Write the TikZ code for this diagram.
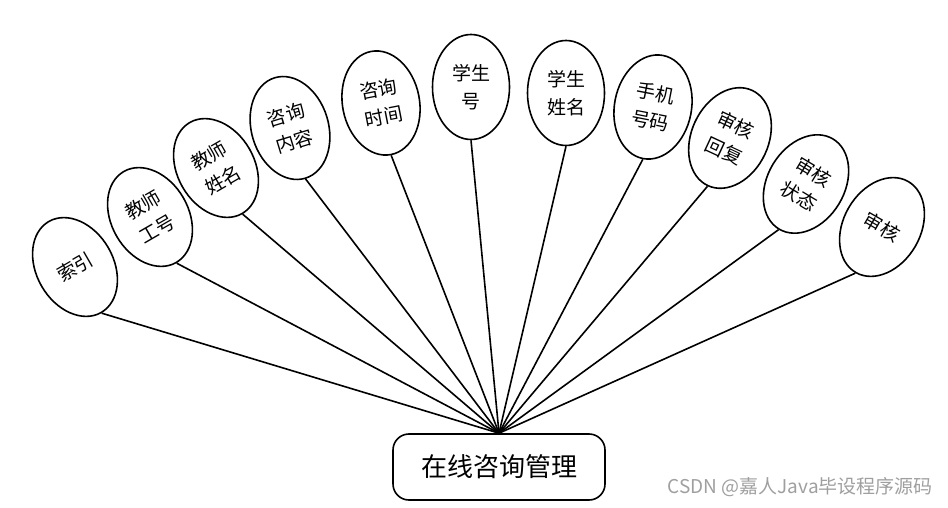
\documentclass[tikz,border=0pt]{standalone}
\usepackage{fontspec}
\setmainfont{Noto Sans CJK SC}
\newfontfamily\cjk{Noto Sans CJK SC}
\usetikzlibrary{shapes.geometric}
\begin{document}
\begin{tikzpicture}[x=1pt,y=-1pt,
  attr/.style={ellipse, draw, line width=1.6pt, minimum width=77pt, minimum height=105pt,
    inner sep=0pt, align=center, font=\cjk\fontsize{19pt}{28pt}\selectfont},
  link/.style={line width=1.6pt},
  mainbox/.style={draw, rounded corners=16pt, line width=1.6pt, minimum width=212pt,
    minimum height=66pt, font=\cjk\fontsize{26pt}{30pt}\selectfont}]
\useasboundingbox (0,0) rectangle (948,508);
\node[mainbox] (hubbox) at (499,467) {在线咨询管理};
\coordinate (hub) at (hubbox.north);
\node[attr, rotate=30] (a1) at (75,267) {索引};
\node[attr, rotate=30] (a2) at (150,217) {教师\\工号};
\node[attr, rotate=30] (a3) at (216,168) {教师\\姓名};
\node[attr, rotate=17] (a4) at (290,128) {咨询\\内容};
\node[attr, rotate=11] (a5) at (381,103) {咨询\\时间};
\node[attr] (a6) at (471,87) {学生\\号};
\node[attr] (a7) at (566,93) {学生\\姓名};
\node[attr, rotate=-11] (a8) at (653,107) {手机\\号码};
\node[attr, rotate=-25] (a9) at (730,138) {审核\\回复};
\node[attr, rotate=-31] (a10) at (806,184) {审核\\状态};
\node[attr, rotate=-30] (a11) at (882,227) {审核};
\foreach \n in {a1,a2,a3,a4,a5,a6,a7,a8,a9,a10,a11}
  \draw[link] (\n.south) -- (hub);
\node[text=gray!75, anchor=east, inner sep=0pt, font=\cjk\fontsize{19pt}{22pt}\selectfont] (wm) at (933,487) {CSDN @嘉人Java毕设程序源码};
\end{tikzpicture}
\end{document}
